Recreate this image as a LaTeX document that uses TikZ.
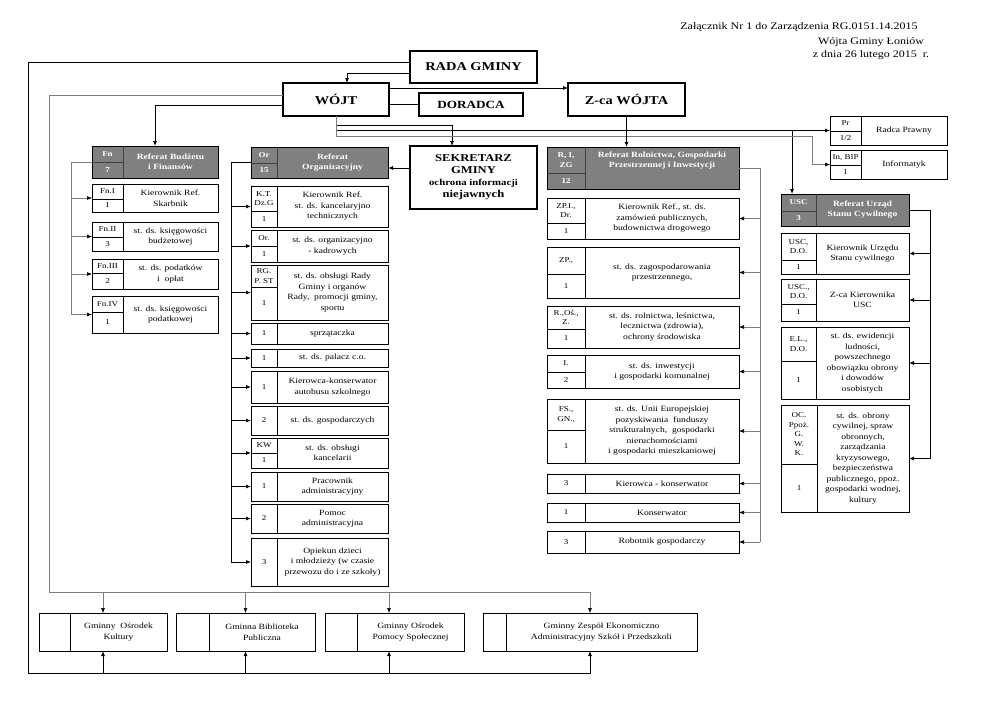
\documentclass[tikz,border=0pt]{standalone}
\usepackage{fontspec}
\setmainfont{Liberation Serif}[FakeStretch=1.2]
\usetikzlibrary{arrows.meta, calc, fit}
\definecolor{headgray}{RGB}{128,128,128}
\definecolor{feedgray}{RGB}{125,125,125}

% #1 look, #2 name, #3 top left, #4 bottom right, #5 x of divider,
% #6 y of split (may be empty), #7 code above, #8 code below, #9 duties
\newcommand{\unitbox}[9]{%
  \coordinate (#2-a) at (#3);
  \coordinate (#2-b) at (#4);
  \coordinate (#2-d) at (#5,0);
  \node[#1 frame, fit=(#2-a)(#2-b)] (#2) {};
  \draw[#1 rule] (#2-d |- #2-a) -- (#2-d |- #2-b);
  \node[#1 text] (#2-t) at ($(#2-d |- #2-a)!.5!(#2-b)$) {#9};
  \ifx&#6&%
    \node[#1 code] (#2-c) at ($(#2-a)!.5!(#2-d |- #2-b)$) {#7};
  \else
    \coordinate (#2-s) at (0,#6);
    \draw[#1 rule] (#2-a |- #2-s) -- (#2-d |- #2-s);
    \node[#1 code] (#2-c) at ($(#2-a)!.5!(#2-d |- #2-s)$) {#7};
    \node[#1 code] (#2-n) at ($(#2-a |- #2-s)!.5!(#2-d |- #2-b)$) {#8};
  \fi}

\begin{document}
\begin{tikzpicture}[x=1pt, y=-1pt, >={Latex[length=5pt,width=4pt,color=black]}, thick]
  \tikzstyle{chief}=[draw, line width=1.3pt, inner sep=0pt, outer sep=0pt, align=center, font=\bfseries\fontsize{12}{14}\selectfont]
  \tikzstyle{unit frame}=[draw, line width=0.8pt, inner sep=0pt, outer sep=0pt]
  \tikzstyle{head frame}=[unit frame, fill=headgray]
  \tikzstyle{unit rule}=[line width=0.6pt]
  \tikzstyle{head rule}=[line width=0.6pt, draw=black!75]
  \tikzstyle{unit text}=[inner sep=0pt, align=center, font=\fontsize{8}{10.5}\selectfont]
  \tikzstyle{head text}=[inner sep=0pt, align=center, text=white, font=\bfseries\fontsize{8}{10}\selectfont]
  \tikzstyle{unit code}=[inner sep=0pt, align=center, font=\fontsize{7.5}{9.5}\selectfont]
  \tikzstyle{head code}=[inner sep=0pt, align=center, text=white, font=\bfseries\fontsize{7.5}{9.5}\selectfont]
  \tikzstyle{feed}=[draw=feedgray, semithick]
  \tikzstyle{note}=[inner sep=0pt, font=\fontsize{10}{12}\selectfont]

  \useasboundingbox (0,0) rectangle (992,702);

  % Heading
  \node[note] (annex) at (799,27) {Załącznik Nr 1 do Zarządzenia RG.0151.14.2015};
  \node[note] (annexb) at (871,42) {Wójta Gminy Łoniów};
  \node[note] (annexc) at (871,55) {z dnia 26 lutego 2015\ \ r.};

  % Top of the office
  \node[chief, minimum width=127pt, minimum height=32pt] (rada) at (473.5,67) {RADA GMINY};
  \node[chief, minimum width=106pt, minimum height=33pt] (wojt) at (336,99.5) {WÓJT};
  \node[chief, minimum width=104pt, minimum height=23pt, font=\bfseries\fontsize{11}{13}\selectfont] (doradca) at (471,104.5) {DORADCA};
  \node[chief, minimum width=117pt, minimum height=33pt] (zca) at (626.5,99.5) {Z-ca WÓJTA};
  \node[chief, minimum width=127pt, minimum height=63pt, font=\bfseries\fontsize{10.5}{12}\selectfont] (sek) at (473.5,177.5)
    {SEKRETARZ\\GMINY\\\fontsize{9}{11.5}\selectfont ochrona informacji\\niejawnych};

  % Referat Budzetu i Finansow
  \unitbox{head}{fnh}{92,146}{218,178}{123}{162}{Fn}{7}{Referat Budżetu\\i Finansów}
  \unitbox{unit}{fn1}{92,184}{218,212}{123}{199}{Fn.I}{1}{Kierownik Ref.\\Skarbnik}
  \unitbox{unit}{fn2}{92,222}{218,251}{123}{237}{Fn.II}{3}{st. ds. księgowości\\budżetowej}
  \unitbox{unit}{fn3}{92,259}{218,289}{123}{273}{Fn.III}{2}{st. ds. podatków\\i\ \ opłat}
  \unitbox{unit}{fn4}{92,296}{218,333}{123}{312}{Fn.IV}{1}{st. ds. księgowości\\podatkowej}

  % Referat Organizacyjny
  \unitbox{head}{orh}{251,147}{388,178}{277}{163}{Or}{15}{Referat\\Organizacyjny}
  \unitbox{unit}{or1}{251,186}{388,227}{277}{211}{K.T.\\Dz.G}{1}{Kierownik Ref.\\st. ds. kancelaryjno\\technicznych}
  \unitbox{unit}{or2}{251,230}{388,262}{277}{246}{Or.}{1}{st. ds. organizacyjno\\- kadrowych}
  \unitbox{unit}{or3}{251,265}{388,320}{277}{287}{RG.\\P. ST}{1}{st. ds. obsługi Rady\\Gminy i organów\\Rady,\ \ promocji gminy,\\sportu}
  \unitbox{unit}{or4}{251,323}{388,344}{277}{}{1}{}{sprzątaczka}
  \unitbox{unit}{or5}{251,349}{388,367}{277}{}{1}{}{st. ds. palacz c.o.}
  \unitbox{unit}{or6}{251,371}{388,403}{277}{}{1}{}{Kierowca-konserwator\\autobusu szkolnego}
  \unitbox{unit}{or7}{251,406}{388,435}{277}{}{2}{}{st. ds. gospodarczych}
  \unitbox{unit}{or8}{251,438}{388,468}{277}{453}{KW}{1}{st. ds. obsługi\\kancelarii}
  \unitbox{unit}{or9}{251,472}{388,501}{277}{}{1}{}{Pracownik\\administracyjny}
  \unitbox{unit}{or10}{251,504}{388,533}{277}{}{2}{}{Pomoc\\administracyjna}
  \unitbox{unit}{or11}{251,538}{388,586}{277}{}{3}{}{Opiekun dzieci\\i młodzieży (w czasie\\przewozu do i ze szkoły)}

  % Referat Rolnictwa, Gospodarki Przestrzennej i Inwestycji
  \unitbox{head}{rih}{547,147}{739,189}{585}{173}{R, I,\\ZG}{12}{Referat Rolnictwa, Gospodarki\\Przestrzennej i Inwestycji\\[6pt]}
  \unitbox{unit}{ri1}{547,198}{739,239}{585}{223}{ZP.I.,\\Dr.}{1}{Kierownik Ref., st. ds.\\zamówień publicznych,\\budownictwa drogowego}
  \unitbox{unit}{ri2}{547,247}{739,298}{585}{274}{ZP.,}{1}{st. ds. zagospodarowania\\przestrzennego,}
  \unitbox{unit}{ri3}{547,306}{739,348}{585}{329}{R.,Oś.,\\Z.}{1}{st. ds. rolnictwa, leśnictwa,\\lecznictwa (zdrowia),\\ochrony środowiska}
  \unitbox{unit}{ri4}{547,355}{739,388}{585}{372}{I.}{2}{st. ds. inwestycji\\i gospodarki komunalnej}
  \unitbox{unit}{ri5}{547,399}{739,463}{585}{430}{FS.,\\GN.,}{1}{st. ds. Unii Europejskiej\\pozyskiwania\ \ funduszy\\strukturalnych,\ \ gospodarki\\nieruchomościami\\i gospodarki mieszkaniowej}
  \unitbox{unit}{ri6}{547,474}{739,493}{585}{}{3}{}{Kierowca - konserwator}
  \unitbox{unit}{ri7}{547,503}{739,522}{585}{}{1}{}{Konserwator}
  \unitbox{unit}{ri8}{547,531}{739,553}{585}{}{3}{}{Robotnik gospodarczy}

  % Radca Prawny, Informatyk
  \unitbox{unit}{pr}{830,116}{947,145}{861}{131}{Pr}{1/2}{Radca Prawny}
  \unitbox{unit}{inbip}{830,150}{947,179}{861}{165}{In, BIP}{1}{Informatyk}

  % Referat Urzad Stanu Cywilnego
  \unitbox{head}{usch}{781,194}{909,226}{816}{211}{USC}{3}{Referat Urząd\\Stanu Cywilnego}
  \unitbox{unit}{usc1}{781,233}{909,274}{816}{260}{USC,\\D.O.}{1}{Kierownik Urzędu\\Stanu cywilnego}
  \unitbox{unit}{usc2}{781,279}{909,321}{816}{304}{USC.,\\D.O.}{1}{Z-ca Kierownika\\USC}
  \unitbox{unit}{usc3}{781,327}{909,399}{816}{361}{E.L.,\\D.O.}{1}{st. ds. ewidencji\\ludności,\\powszechnego\\obowiązku obrony\\i dowodów\\osobistych}
  \unitbox{unit}{usc4}{781,405}{909,512}{817}{464}{OC.\\Ppoż.\\G.\\W.\\K.}{1}{st. ds. obrony\\cywilnej, spraw\\obronnych,\\zarządzania\\kryzysowego,\\bezpieczeństwa\\publicznego, ppoż.\\gospodarki wodnej,\\kultury}

  % Units of the commune
  \unitbox{unit}{gok}{39,613}{167,651}{70}{}{}{}{Gminny\ \ Ośrodek\\Kultury}
  \unitbox{unit}{gbp}{176,613}{315,651}{209}{}{}{}{Gminna Biblioteka\\Publiczna}
  \unitbox{unit}{gops}{325,613}{464,651}{357}{}{}{}{Gminny Ośrodek\\Pomocy Społecznej}
  \unitbox{unit}{gzeas}{483,613}{697,651}{506}{}{}{}{Gminny Zespół Ekonomiczno\\Administracyjny Szkół i Przedszkoli}

  % Connectors
  \coordinate (outerSW) at (28,673);
  \coordinate (innerNW) at (49,95);
  \coordinate (innerSW) at (49,592);
  \coordinate (opsIn) at (389,0);
  \coordinate (sekIn) at (452,125);
  \coordinate (uscIn) at (792,0);
  \coordinate (itIn) at (812,136);
  \coordinate (fnBus) at (71,0);
  \coordinate (orBus) at (231,0);
  \coordinate (riBus) at (760,0);
  \coordinate (uscBus) at (930,0);

  \draw[->] (rada.west |- 0,62) -| (outerSW) -| (gzeas.south);
  \draw[->] (gok.south |- outerSW) -- (gok.south);
  \draw[->] (gbp.south |- outerSW) -- (gbp.south);
  \draw[->] (opsIn |- outerSW) -- (opsIn |- gops.south);

  \draw[feed, ->] (wojt.west |- innerNW) -- (innerNW) -- (innerSW) -| (gzeas.north);
  \draw[feed, ->] (gok.north |- innerSW) -- (gok.north);
  \draw[feed, ->] (gbp.north |- innerSW) -- (gbp.north);
  \draw[feed, ->] (opsIn |- innerSW) -- (opsIn |- gops.north);

  \draw[->] (rada.west |- 0,73) -| (wojt.north -| 347,0);
  \draw[->] (wojt.east |- 0,88) -- (zca.west |- 0,88);
  \draw (wojt.east |- doradca.west) -- (doradca.west);
  \draw[->] (wojt.west |- 0,105) -| (fnh.north);
  \draw[->] (wojt.south) |- (sekIn) -- (sekIn |- sek.north);
  \draw[->] (wojt.south) |- (pr.west);
  \draw[->] (uscIn |- pr.west) -- (uscIn |- usch.north);
  \draw[feed, ->] (wojt.south) |- (itIn) |- (inbip.west);
  \draw[->] (zca.south) -- (zca.south |- rih.north);
  \draw[->] (sek.west |- 0,168) -- (orh.east |- 0,168);

  \draw[feed] (fnh.west) -| (fnBus |- fn4.west);
  \foreach \u in {fn1,fn2,fn3,fn4}
    \draw[feed, ->] (fnBus |- \u.west) -- (\u.west);

  \draw (orh.west) -| (orBus |- or11.west);
  \foreach \u in {or1,or2,or3,or4,or5,or6,or7,or8,or9,or10,or11}
    \draw[->] (orBus |- \u.west) -- (\u.west);

  \draw[feed] (rih.east) -| (riBus |- ri8.east);
  \foreach \u in {ri1,ri2,ri3,ri4,ri5,ri6,ri7,ri8}
    \draw[feed, ->] (riBus |- \u.east) -- (\u.east);

  \draw (usch.east) -| (uscBus |- usc4.east);
  \foreach \u in {usc1,usc2,usc3,usc4}
    \draw[->] (uscBus |- \u.east) -- (\u.east);

\end{tikzpicture}
\end{document}
